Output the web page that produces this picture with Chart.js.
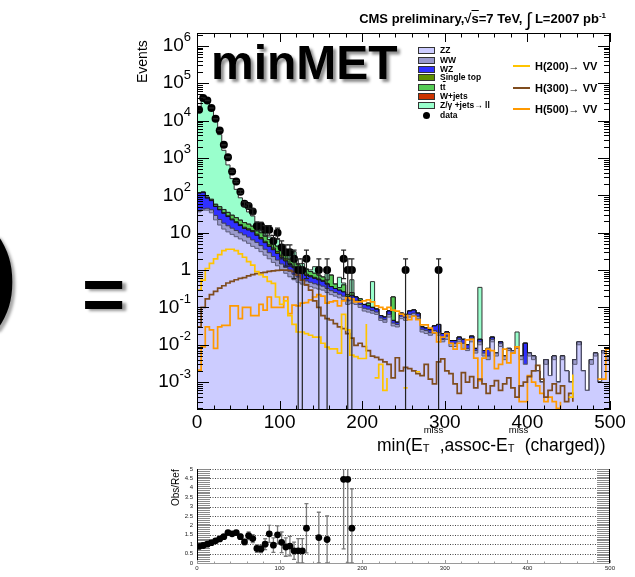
<!DOCTYPE html>
<html>
<head>
<meta charset="utf-8">
<title>minMET</title>
<script src="https://cdn.jsdelivr.net/npm/chart.js@4.4.1/dist/chart.umd.min.js"></script>
<style>
  html, body { margin:0; padding:0; background:#fff; }
  body { width:635px; height:577px; position:relative; overflow:hidden;
         font-family:"Liberation Sans", Arial, Helvetica, sans-serif; color:#000; }
  canvas { position:absolute; left:0; }
  #mainCanvas { top:0; }
  #ratioCanvas { top:460px; }
  .t { position:absolute; white-space:nowrap; line-height:1; }
  .row { position:absolute; left:418px; height:9px; display:flex; align-items:center;
         font-weight:bold; font-size:8.5px; line-height:9px; }
  .sw { display:inline-block; width:15px; height:5px; border:1px solid #333; margin-right:5px; }
  .dot { display:inline-block; width:7px; height:7px; border-radius:50%; background:#000; margin:0 10px 0 5px; }
  .sig { position:absolute; left:513px; height:14px; display:flex; align-items:center;
         font-weight:bold; font-size:11px; }
  .sig i { display:inline-block; width:17px; height:2px; margin-right:5px; }
  .ss { display:inline-block; position:relative; width:17px; height:1em; }
  .ss .u { position:absolute; left:1px; top:-8px; font-size:9.5px; }
  .ss .d { position:absolute; left:0; top:10px; font-size:11px; }
</style>
</head>
<body>
<canvas id="mainCanvas" width="635" height="460"></canvas>
<canvas id="ratioCanvas" width="635" height="117"></canvas>

<!-- slide decorations around the plot -->
<div class="t" style="left:-16px; top:223px; font-size:100px; font-weight:bold; text-shadow:3px 3px 3px rgba(0,0,0,0.35);">)</div>
<div class="t" style="left:82px; top:258px; font-size:74px; font-weight:bold; text-shadow:4px 2px 3px rgba(0,0,0,0.4);">=</div>

<!-- header -->
<div class="t" style="right:29px; top:7px; font-size:13px; font-weight:bold;">CMS preliminary,√<span style="text-decoration:overline">s</span>=7 TeV, <span style="font-size:19px; font-weight:normal; position:relative; top:3px;">∫</span> L=2007 pb<span style="font-size:8px; position:relative; top:-5px;">-1</span></div>

<div class="t" style="left:211px; top:39px; font-size:48px; font-weight:bold; text-shadow:3px 3px 3px rgba(0,0,0,0.45);">minMET</div>

<!-- axis titles -->
<div class="t" style="left:135px; top:83px; font-size:14px; transform:rotate(-90deg); transform-origin:left top;">Events</div>
<div class="t" style="left:377px; top:433px; font-size:17.5px;">min(E<span class="ss"><span class="u">miss</span><span class="d">T</span></span>,assoc-E<span class="ss"><span class="u">miss</span><span class="d">T</span></span>(charged))</div>
<div class="t" style="left:171px; top:506px; font-size:10px; transform:rotate(-90deg); transform-origin:left top;">Obs/Ref</div>

<!-- background legend -->
<div class="row" style="top:46px;"><span class="sw" style="background:#ccccff"></span>ZZ</div>
<div class="row" style="top:55.5px;"><span class="sw" style="background:#9a9acc"></span>WW</div>
<div class="row" style="top:64.5px;"><span class="sw" style="background:#3030ff"></span>WZ</div>
<div class="row" style="top:73px;"><span class="sw" style="background:#5f8f00"></span>Single top</div>
<div class="row" style="top:82.5px;"><span class="sw" style="background:#55cc55"></span>t<span style="text-decoration:overline">t</span></div>
<div class="row" style="top:91.5px;"><span class="sw" style="background:#cc3300"></span>W+jets</div>
<div class="row" style="top:101px;"><span class="sw" style="background:#99ffcc"></span>Z/γ +jets→ ll</div>
<div class="row" style="top:110.5px;"><span class="dot"></span>data</div>

<!-- signal legend -->
<div class="sig" style="top:59px;"><i style="background:#ffc400"></i>H(200)→ VV</div>
<div class="sig" style="top:81px;"><i style="background:#7f4c1e"></i>H(300)→ VV</div>
<div class="sig" style="top:102px;"><i style="background:#ff9900"></i>H(500)→ VV</div>

<script>
// ---- binning: 100 bins of 5 GeV from 0 to 500 ----
const N_BINS = 100;
const BIN_W = 5;
const binLow = Array.from({ length: N_BINS }, (_, i) => i * BIN_W);
const xTickLabels = [0, 100, 200, 300, 400, 500];
const yDecades = [-3, -2, -1, 0, 1, 2, 3, 4, 5, 6];
const ratioTickLabels = ['0', '0.5', '1', '1.5', '2', '2.5', '3', '3.5', '4', '4.5', '5'];

// ---- background expectations per bin (stacked, bottom to top) ----
const zz = [
  36, 40, 40, 34, 22, 16, 12.5, 10.5, 9, 7.8,
  6.8, 6, 5.2, 4.3, 3.8, 3.1, 2.5, 2.0, 1.6, 1.3,
  1.0, 0.82, 0.66, 0.55, 0.47, 0.42, 0.39, 0.36, 0.33, 0.31,
  0.29, 0.25, 0.22, 0.2, 0.18, 0.16, 0.12, 0.13, 0.12, 0.1,
  0.08, 0.075, 0.07, 0.065, 0.045, 0.04, 0.055, 0.032, 0.03, 0.05,
  0.045, 0.055, 0.06, 0.05, 0.022, 0.02, 0.018, 0.02, 0.018, 0.012,
  0.014, 0.009, 0.009, 0.012, 0.008, 0.007, 0.012, 0.006, 0.01, 0.005,
  0.004, 0.012, 0.005, 0.009, 0.004, 0.007, 0.006, 0.008, 0.004, 0.003,
  0.005, 0.004, 0.002, 0.001, 0.003, 0.0015, 0.004, 0.001, 0.004, 0.002,
  0.001, 0.003, 0.01, 0.002, 0.0006, 0.003, 0.005, 0.001, 0.006, 0.004
];
const ww = [
  2, 3, 5, 7, 7, 6.5, 5.5, 4.8, 4.2, 3.6,
  3.1, 2.7, 2.4, 2.1, 1.7, 1.4, 1.1, 0.9, 0.7, 0.55,
  0.45, 0.35, 0.27, 0.22, 0.18, 0.14, 0.12, 0.11, 0.1, 0.09,
  0.08, 0.07, 0.06, 0.05, 0.045, 0.04, 0.03, 0.03, 0.03, 0.02,
  0.015, 0.015, 0.012, 0.01, 0.007, 0.007, 0.01, 0.006, 0.005, 0.008,
  0.008, 0.01, 0.01, 0.008, 0.004, 0.004, 0.003, 0.004, 0.003, 0.002,
  0.003, 0.002, 0.002, 0.002, 0.003, 0.001, 0.003, 0.001, 0.002, 0.001,
  0.001, 0.002, 0.001, 0.002, 0.001, 0.001, 0.001, 0.001, 0.001, 0,
  0.001, 0.001, 0, 0, 0.001, 0, 0.001, 0, 0.001, 0,
  0, 0.001, 0.002, 0, 0, 0.001, 0.001, 0, 0.001, 0.001
];
const wz = [
  76, 75, 39, 31, 21, 18.5, 15, 11.7, 8.8, 7.1,
  5.6, 4.3, 4.2, 4.2, 3.0, 2.3, 1.8, 1.4, 1.2, 0.95,
  0.75, 0.58, 0.47, 0.38, 0.3, 0.24, 0.21, 0.19, 0.17, 0.15,
  0.13, 0.1, 0.08, 0.07, 0.065, 0.06, 0.04, 0.05, 0.04, 0.03,
  0.025, 0.02, 0.018, 0.015, 0.008, 0.008, 0.015, 0.007, 0.005, 0.012,
  0.012, 0.015, 0.015, 0.012, 0.004, 0.004, 0.004, 0.008, 0.014, 0.006,
  0.005, 0.002, 0.002, 0.002, 0.003, 0.002, 0.002, 0.001, 0.002, 0.001,
  0.003, 0.002, 0, 0.001, 0, 0, 0, 0, 0, 0.008,
  0, 0, 0, 0, 0, 0, 0, 0, 0, 0,
  0, 0, 0, 0, 0, 0, 0, 0, 0, 0
];
const singleTop = [
  0.5, 0.8, 1, 1.2, 1.3, 1.4, 1.5, 1.4, 1.3, 1.2,
  1.1, 1.0, 0.9, 0.8, 0.7, 0.6, 0.5, 0.45, 0.4, 0.35,
  0.3, 0.25, 0.1, 0.1, 0.08, 0.07, 0.06, 0.05, 0.04, 0.03,
  0.03, 0.02, 0, 0, 0, 0, 0, 0, 0, 0,
  0, 0, 0, 0, 0, 0, 0, 0, 0, 0,
  0, 0, 0, 0, 0, 0, 0, 0, 0, 0,
  0, 0, 0, 0, 0, 0, 0, 0, 0, 0,
  0, 0, 0, 0, 0, 0, 0, 0, 0, 0,
  0, 0, 0, 0, 0, 0, 0, 0, 0, 0,
  0, 0, 0, 0, 0, 0, 0, 0, 0, 0
];
const ttbar = [
  3, 4, 4, 5, 6, 7, 7, 6.5, 6, 5.5,
  5, 4.6, 4.2, 3.5, 3.0, 2.5, 2.1, 1.8, 1.5, 1.2,
  1.0, 0.8, 0.45, 0.4, 0.35, 0.3, 0.25, 0.2, 0.18, 0.15,
  0.12, 0.1, 0.37, 0.1, 0.05, 0.14, 0.03, 0.04, 0, 0.02,
  0, 0.02, 0, 0, 0, 0, 0, 0.145, 0, 0,
  0, 0, 0, 0, 0, 0, 0, 0, 0, 0,
  0, 0, 0, 0, 0, 0, 0, 0, 0, 0,
  0, 0, 0, 0, 0, 0, 0, 0, 0, 0,
  0, 0, 0, 0, 0, 0, 0, 0, 0, 0,
  0, 0, 0, 0, 0, 0, 0, 0, 0, 0
];
const wjets = [
  0, 0, 0.8, 0, 0.5, 0, 0.3, 0, 0, 0,
  0, 0, 0, 0, 0, 0, 0, 0, 0, 0,
  0, 0, 0, 0, 0, 0, 0, 0, 0, 0,
  0, 0, 0, 0, 0, 0, 0, 0, 0, 0,
  0, 0, 0, 0, 0, 0, 0, 0, 0, 0,
  0, 0, 0, 0, 0, 0, 0, 0, 0, 0,
  0, 0, 0, 0, 0, 0, 0, 0, 0, 0,
  0, 0, 0, 0, 0, 0, 0, 0, 0, 0,
  0, 0, 0, 0, 0, 0, 0, 0, 0, 0,
  0, 0, 0, 0, 0, 0, 0, 0, 0, 0
];
const zjets = [
  22580, 42900, 34410, 19920, 9440, 4150, 1558, 615, 251, 119,
  64, 34, 19, 13, 7.3, 9.1, 4, 1.15, 0.9, 2.35,
  0.1, 0.7, 1.35, 1.45, 0.12, 0.33, 0.05, 0.1, 0.41, 0,
  0, 0.26, 0, 0, 0.3, 0.05, 0, 0.3, 0, 0,
  0, 0, 0.39, 0, 0, 0, 0, 0, 0, 0,
  0, 0, 0, 0, 0, 0, 0, 0, 0, 0,
  0, 0, 0, 0, 0, 0, 0, 0, 0.33, 0,
  0, 0, 0, 0, 0, 0, 0, 0.013, 0, 0,
  0, 0, 0, 0, 0, 0, 0, 0, 0, 0,
  0, 0, 0, 0, 0, 0, 0, 0, 0, 0
];

// ---- Higgs signal hypotheses ----
const h200 = [
  0.29, 0.54, 1.1, 1.5, 2.0, 2.6, 3.3, 3.6, 3.6, 3.3,
  2.7, 2.2, 1.67, 1.36, 0.91, 0.75, 0.66, 0.5, 0.44, 0.19,
  0.12, 0.15, 0.06, 0.035, 0.022, 0.022, 0.02, 0.018, 0.016, 0.016,
  0.011, 0.0087, 0.0078, 0.0078, 0.006, 0.065, 0.025, 0.0053, 0.0048, 0.0043,
  0.0043, 0.036, 0, 0.0013, 0.003, 0.0006, 0.0013, 0, 0, 0,
  0.0007, 0.0007, 0, 0.0019, 0.0019, 0, 0, 0, 0, 0,
  0, 0, 0.0021, 0, 0, 0, 0, 0, 0, 0,
  0, 0, 0, 0, 0, 0, 0, 0, 0, 0,
  0, 0, 0, 0, 0, 0, 0, 0, 0.0007, 0,
  0.0004, 0.0016, 0, 0, 0, 0, 0, 0, 0, 0
];
const h300 = [
  0.03, 0.1, 0.17, 0.22, 0.27, 0.33, 0.38, 0.45, 0.5, 0.55,
  0.6, 0.63, 0.7, 0.75, 0.8, 0.84, 0.87, 0.92, 0.95, 0.98,
  1.0, 1.0, 0.98, 0.9, 0.73, 0.54, 0.4, 0.29, 0.15, 0.1,
  0.06, 0.05, 0.046, 0.037, 0.03, 0.027, 0.02, 0.015, 0.0097, 0.011,
  0.009, 0.007, 0.005, 0.0046, 0.004, 0.0035, 0.003, 0.0013, 0.0045, 0.002,
  0.0025, 0.0023, 0.002, 0.0017, 0.0015, 0.003, 0.0012, 0.0009, 0.0035, 0.0042,
  0.002, 0.0017, 0.0009, 0.0005, 0.0018, 0.001, 0.0014, 0.0007, 0.0012, 0.0009,
  0.0005, 0.0008, 0.0011, 0.0006, 0.0009, 0.0013, 0.0007, 0.0004, 0.0008, 0.001,
  0.0014, 0.002, 0.0028, 0.0012, 0.0004, 0.0006, 0.0009, 0.0005, 0.0008, 0.0003,
  0.0005, 0.0003, 0, 0, 0, 0, 0, 0, 0, 0
];
const h500 = [
  0.0021, 0.0088, 0.03, 0.025, 0.008, 0.03, 0.033, 0.033, 0.11, 0.11,
  0.05, 0.1, 0.1, 0.06, 0.06, 0.12, 0.085, 0.19, 0.1, 0.1,
  0.1, 0.19, 0.068, 0.115, 0.11, 0.13, 0.135, 0.16, 0.19, 0.22,
  0.2, 0.13, 0.14, 0.15, 0.11, 0.15, 0.18, 0.17, 0.14, 0.14,
  0.15, 0.16, 0.14, 0.11, 0.1, 0.09, 0.1, 0.085, 0.08, 0.066,
  0.06, 0.047, 0.058, 0.047, 0.034, 0.034, 0.028, 0.021, 0.012, 0.016,
  0.02, 0.011, 0.0077, 0.011, 0.0077, 0.0135, 0.014, 0.0044, 0.0011, 0.0044,
  0.0077, 0.007, 0.0023, 0.003, 0.0077, 0.0033, 0.006, 0.0088, 0.0003, 0.0003,
  0.0015, 0.001, 0.0008, 0.0005, 0.0003, 0.0004, 0.0003, 0.0002, 0.0003, 0,
  0, 0.0002, 0, 0, 0, 0, 0, 0.0012, 0.0012, 0.0077
];

// ---- observed events per bin ----
const dataCounts = [
  19500, 40000, 34500, 21700, 11200, 5400, 2240, 1050, 433, 233,
  124, 59, 52, 37, 15, 15, 12, 12, 6, 10,
  4, 3, 3, 2, 1, 1, 2, 0, 0, 1,
  0, 1, 0, 0, 0, 2, 1, 1, 0, 0,
  0, 0, 0, 0, 0, 0, 0, 0, 0, 0,
  1, 0, 0, 0, 0, 0, 0, 0, 1, 0,
  0, 0, 0, 0, 0, 0, 0, 0, 0, 0,
  0, 0, 0, 0, 0, 0, 0, 0, 0, 0,
  0, 0, 0, 0, 0, 0, 0, 0, 0, 0,
  0, 0, 0, 0, 0, 0, 0, 0, 0, 0
];

// ---- observed / expected ratio and its uncertainty ----
const ratioVals = [
  0.88, 0.93, 1.0, 1.08, 1.18, 1.28, 1.4, 1.62, 1.55, 1.62,
  1.4, 1.12, 1.45, 1.3, 0.77, 0.75, 1.0, 1.55, 0.95, 1.5,
  1.1, 0.85, 0.9, 0.65, 0.65, 0.65, 1.85, null, null, 1.35,
  null, 1.25, null, null, null, 4.45, 4.45, 1.85, null, null
];
const ratioErr = [
  0.01, 0.01, 0.01, 0.01, 0.01, 0.02, 0.03, 0.05, 0.07, 0.1,
  0.13, 0.14, 0.2, 0.21, 0.2, 0.2, 0.29, 0.45, 0.39, 0.47,
  0.55, 0.49, 0.52, 0.46, 0.65, 0.65, 1.31, null, null, 1.35,
  null, 1.25, null, null, null, 3.7, 4.45, 2.1, null, null
];

// ---- helpers ----
const FONT = '"Liberation Sans", Arial, Helvetica, sans-serif';

function stepPoints(vals) {
  const pts = vals.map((v, i) => ({ x: binLow[i], y: v }));
  pts.push({ x: binLow[N_BINS - 1] + BIN_W, y: vals[N_BINS - 1] });
  return pts;
}

// cumulative sums so every layer of the stack is drawn from the axis floor
const stackLayers = [
  { vals: zz, fill: '#ccccff', line: '#5c5c78' },
  { vals: ww, fill: '#9a9acc', line: '#3c3c50' },
  { vals: wz, fill: '#3030ff', line: '#101010' },
  { vals: singleTop, fill: '#5f8f00', line: '#202020' },
  { vals: ttbar, fill: '#55cc55', line: '#202020' },
  { vals: wjets, fill: '#cc3300', line: '#202020' },
  { vals: zjets, fill: '#99ffcc', line: '#303030' }
];
let running = new Array(N_BINS).fill(0);
const stackDatasets = stackLayers.map(layer => {
  running = running.map((r, i) => r + layer.vals[i]);
  return {
    data: stepPoints(running),
    stepped: true,
    fill: 'start',
    backgroundColor: layer.fill,
    borderColor: layer.line,
    borderWidth: 1,
    pointRadius: 0
  };
});

function signalDataset(vals, color) {
  return {
    data: stepPoints(vals),
    stepped: true,
    fill: false,
    borderColor: color,
    borderWidth: 1.7,
    pointRadius: 0
  };
}

const dataPoints = dataCounts.map((n, i) => ({ x: binLow[i] + BIN_W / 2, y: n > 0 ? n : null }));

// ---- axes, frame and error bars for the main panel ----
const mainDecor = {
  id: 'mainDecor',
  afterDatasetsDraw(chart) {
    const { ctx, chartArea: a, scales: { x, y } } = chart;
    ctx.save();
    ctx.beginPath();
    ctx.rect(a.left, a.top, a.right - a.left, a.bottom - a.top);
    ctx.clip();
    ctx.strokeStyle = '#222';
    ctx.lineWidth = 1.2;
    dataCounts.forEach((n, i) => {
      if (n <= 0) return;
      const px = x.getPixelForValue(binLow[i] + BIN_W / 2);
      const e = Math.sqrt(n);
      const yHi = y.getPixelForValue(n + e);
      const lo = n - e;
      const yLo = lo > y.min ? y.getPixelForValue(lo) : a.bottom + 2;
      ctx.beginPath();
      ctx.moveTo(px, yHi); ctx.lineTo(px, yLo);
      ctx.moveTo(px - 2.5, yHi); ctx.lineTo(px + 2.5, yHi);
      if (lo > y.min) { ctx.moveTo(px - 2.5, yLo); ctx.lineTo(px + 2.5, yLo); }
      ctx.stroke();
    });
    ctx.restore();
  },
  afterDraw(chart) {
    const { ctx, chartArea: a, scales: { x, y } } = chart;
    ctx.save();
    ctx.strokeStyle = '#000';
    ctx.lineWidth = 1;
    ctx.strokeRect(a.left + 0.5, a.top + 0.5, a.right - a.left - 1, a.bottom - a.top - 1);
    ctx.beginPath();
    for (let v = 0; v <= 500; v += 20) {
      const px = Math.round(x.getPixelForValue(v)) + 0.5;
      const len = v % 100 === 0 ? 9 : 4.5;
      ctx.moveTo(px, a.bottom); ctx.lineTo(px, a.bottom - len);
      ctx.moveTo(px, a.top); ctx.lineTo(px, a.top + len);
    }
    for (let d = -4; d <= 6; d++) {
      for (let k = 1; k <= 9; k++) {
        const v = k * Math.pow(10, d);
        if (v < y.min || v > y.max) continue;
        const py = Math.round(y.getPixelForValue(v)) + 0.5;
        const len = k === 1 ? 12 : 6;
        ctx.moveTo(a.left, py); ctx.lineTo(a.left + len, py);
        ctx.moveTo(a.right, py); ctx.lineTo(a.right - len, py);
      }
    }
    ctx.stroke();

    // tick labels
    ctx.fillStyle = '#000';
    ctx.textBaseline = 'middle';
    ctx.textAlign = 'center';
    ctx.font = '19px ' + FONT;
    xTickLabels.forEach(v => ctx.fillText(String(v), x.getPixelForValue(v), a.bottom + 13));
    ctx.textAlign = 'right';
    const xr = a.left - 6;
    yDecades.forEach(d => {
      const py = y.getPixelForValue(Math.pow(10, d));
      if (d === 0 || d === 1) {
        ctx.font = '19px ' + FONT;
        ctx.fillText(d === 0 ? '1' : '10', xr, py);
        return;
      }
      ctx.font = '13px ' + FONT;
      const sup = String(d);
      const w = ctx.measureText(sup).width;
      ctx.fillText(sup, xr, py - 8);
      ctx.font = '19px ' + FONT;
      ctx.fillText('10', xr - w, py);
    });
    ctx.restore();
  }
};

new Chart(document.getElementById('mainCanvas'), {
  type: 'line',
  data: {
    datasets: [
      {
        data: dataPoints,
        showLine: false,
        pointRadius: 4,
        pointBackgroundColor: '#000',
        pointBorderColor: '#000',
        pointBorderWidth: 0
      },
      signalDataset(h200, '#ffc400'),
      signalDataset(h300, '#7f4c1e'),
      signalDataset(h500, '#ff9900'),
      ...stackDatasets
    ]
  },
  options: {
    responsive: false,
    animation: false,
    devicePixelRatio: 1,
    layout: { padding: { left: 197, right: 25, top: 33, bottom: 50 } },
    plugins: { legend: { display: false }, tooltip: { enabled: false } },
    elements: { line: { tension: 0 } },
    scales: {
      x: { type: 'linear', min: 0, max: 500, display: false },
      y: { type: 'logarithmic', min: 1.8e-4, max: 2.2e6, display: false }
    }
  },
  plugins: [mainDecor]
});

// ---- ratio panel ----
const ratioPoints = ratioVals.map((r, i) => ({ x: binLow[i] + BIN_W / 2, y: r }));

const ratioDecor = {
  id: 'ratioDecor',
  beforeDatasetsDraw(chart) {
    const { ctx, chartArea: a, scales: { x, y } } = chart;
    ctx.save();
    // dense ticks on both vertical axes
    ctx.strokeStyle = '#8a8a8a';
    ctx.lineWidth = 1;
    ctx.beginPath();
    for (let k = 0; k <= 50; k++) {
      const py = Math.round(y.getPixelForValue(k / 10)) + 0.5;
      ctx.moveTo(a.left, py); ctx.lineTo(a.left + 13, py);
      ctx.moveTo(a.right, py); ctx.lineTo(a.right - 13, py);
    }
    ctx.stroke();
    // dotted reference lines
    ctx.strokeStyle = '#444';
    ctx.setLineDash([1, 1.5]);
    ctx.beginPath();
    for (let k = 1; k <= 10; k++) {
      const py = Math.round(y.getPixelForValue(k / 2)) + 0.5;
      ctx.moveTo(a.left + 13, py); ctx.lineTo(a.right - 13, py);
    }
    ctx.stroke();
    ctx.setLineDash([]);
    // axis lines
    ctx.strokeStyle = '#000';
    ctx.beginPath();
    ctx.moveTo(a.left + 0.5, a.top); ctx.lineTo(a.left + 0.5, a.bottom);
    ctx.moveTo(a.right - 0.5, a.top); ctx.lineTo(a.right - 0.5, a.bottom);
    ctx.stroke();
    ctx.strokeStyle = '#9a9a9a';
    ctx.beginPath();
    ctx.moveTo(a.left, a.bottom + 0.5); ctx.lineTo(a.right, a.bottom + 0.5);
    for (let v = 0; v <= 500; v += 20) {
      const px = Math.round(x.getPixelForValue(v)) + 0.5;
      ctx.moveTo(px, a.bottom); ctx.lineTo(px, a.bottom - (v % 100 === 0 ? 3 : 1.5));
    }
    ctx.stroke();
    // labels
    ctx.fillStyle = '#222';
    ctx.font = '6px ' + FONT;
    ctx.textBaseline = 'middle';
    ctx.textAlign = 'right';
    ratioTickLabels.forEach((s, k) => ctx.fillText(s, a.left - 4, y.getPixelForValue(k / 2)));
    ctx.textAlign = 'center';
    xTickLabels.forEach(v => ctx.fillText(String(v), x.getPixelForValue(v), a.bottom + 5));

    // error bars
    ctx.beginPath();
    ctx.rect(a.left, a.top, a.right - a.left, a.bottom - a.top);
    ctx.clip();
    ctx.strokeStyle = '#7a7a7a';
    ctx.lineWidth = 1.3;
    ctx.beginPath();
    ratioVals.forEach((r, i) => {
      if (r === null || ratioErr[i] === null) return;
      const px = x.getPixelForValue(binLow[i] + BIN_W / 2);
      const yHi = y.getPixelForValue(r + ratioErr[i]);
      const yLo = y.getPixelForValue(Math.max(0, r - ratioErr[i]));
      ctx.moveTo(px, yHi); ctx.lineTo(px, yLo);
      ctx.moveTo(px - 2, yHi); ctx.lineTo(px + 2, yHi);
      ctx.moveTo(px - 2, yLo); ctx.lineTo(px + 2, yLo);
    });
    ctx.stroke();
    ctx.restore();
  }
};

new Chart(document.getElementById('ratioCanvas'), {
  type: 'line',
  data: {
    datasets: [{
      data: ratioPoints,
      showLine: false,
      pointRadius: 3.4,
      pointBackgroundColor: '#000',
      pointBorderColor: '#000',
      pointBorderWidth: 0
    }]
  },
  options: {
    responsive: false,
    animation: false,
    devicePixelRatio: 1,
    layout: { padding: { left: 197, right: 25, top: 9, bottom: 14 } },
    plugins: { legend: { display: false }, tooltip: { enabled: false } },
    scales: {
      x: { type: 'linear', min: 0, max: 500, display: false },
      y: { type: 'linear', min: 0, max: 5, display: false }
    }
  },
  plugins: [ratioDecor]
});
</script>
</body>
</html>
